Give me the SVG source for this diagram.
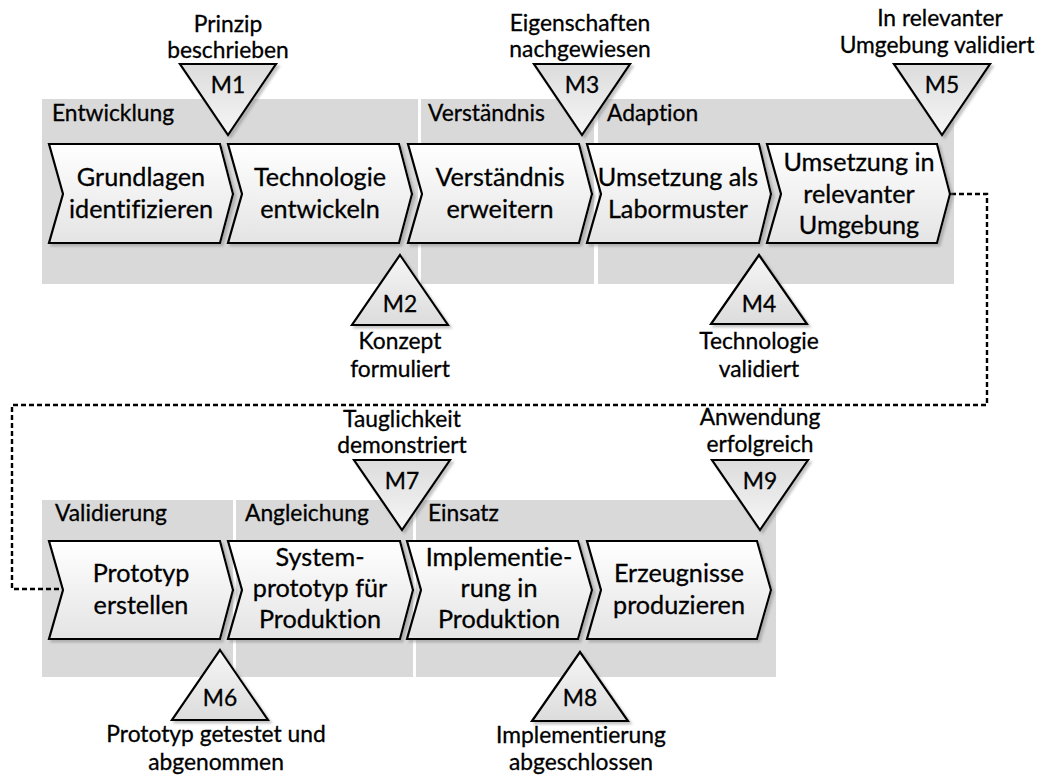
<svg xmlns="http://www.w3.org/2000/svg" width="1042" height="776" viewBox="0 0 1042 776">
  <style>
    text { font-family: Lato, "Liberation Sans", sans-serif; font-variant-ligatures: none; fill: #000; stroke: #000; stroke-width: 0.3px; }
    .band { fill: #d9d9d9; }
    .bandlabel { font-size: 22.8px; }
    .step { fill: url(#stepFill); stroke: #000; stroke-width: 2.2; stroke-linejoin: miter; filter: url(#shadow); }
    .steptext { font-size: 25.2px; text-anchor: middle; }
    .down { fill: url(#downFill); stroke: #000; stroke-width: 2.2; filter: url(#shadow); }
    .up { fill: url(#upFill); stroke: #000; stroke-width: 2.2; filter: url(#shadow); }
    .mtext { font-size: 22.8px; text-anchor: middle; }
    .flow { fill: none; stroke: #000; stroke-width: 2.4; stroke-dasharray: 5 3; }
  </style>
  <defs>
    <linearGradient id="stepFill" x1="0" y1="0" x2="0" y2="1">
      <stop offset="0" stop-color="#ffffff"/>
      <stop offset="1" stop-color="#e4e4e4"/>
    </linearGradient>
    <linearGradient id="downFill" x1="0" y1="0" x2="0" y2="1">
      <stop offset="0" stop-color="#dcdcdc"/>
      <stop offset="1" stop-color="#f6f6f6"/>
    </linearGradient>
    <linearGradient id="upFill" x1="0" y1="0" x2="0" y2="1">
      <stop offset="0" stop-color="#f6f6f6"/>
      <stop offset="1" stop-color="#dcdcdc"/>
    </linearGradient>
    <filter id="shadow" x="-10%" y="-10%" width="130%" height="130%">
      <feDropShadow dx="2.5" dy="2.5" stdDeviation="1.2" flood-color="#7f7f7f" flood-opacity="0.45"/>
    </filter>
  </defs>

  <!-- phase bands -->
  <g id="band-entwicklung">
    <rect class="band" x="42" y="99" width="376" height="185"/>
    <text class="bandlabel" x="52" y="121">Entwicklung</text>
  </g>
  <g id="band-verstaendnis">
    <rect class="band" x="421" y="99" width="173" height="185"/>
    <text class="bandlabel" x="428" y="121">Verständnis</text>
  </g>
  <g id="band-adaption">
    <rect class="band" x="598" y="99" width="356" height="185"/>
    <text class="bandlabel" x="607" y="121">Adaption</text>
  </g>
  <g id="band-validierung">
    <rect class="band" x="42" y="500" width="191" height="177"/>
    <text class="bandlabel" x="55" y="521">Validierung</text>
  </g>
  <g id="band-angleichung">
    <rect class="band" x="236" y="500" width="177" height="177"/>
    <text class="bandlabel" x="245" y="521">Angleichung</text>
  </g>
  <g id="band-einsatz">
    <rect class="band" x="416" y="500" width="360" height="177"/>
    <text class="bandlabel" x="428" y="521">Einsatz</text>
  </g>

  <!-- row change: dotted line from the last upper step to the first lower step -->
  <g id="connectors">
    <polyline class="flow" points="951,194 987,194 987,405 12,405 12,589 63,589"/>
  </g>

  <!-- process steps, upper row -->
  <g id="step-grundlagen">
    <polygon class="step" points="49,144 220,144 233,194 220,243 49,243 63,194"/>
    <text class="steptext" x="141" y="186">Grundlagen</text>
    <text class="steptext" x="141" y="218">identifizieren</text>
  </g>
  <g id="step-technologie">
    <polygon class="step" points="228,144 399,144 412,194 399,243 228,243 242,194"/>
    <text class="steptext" x="320" y="186">Technologie</text>
    <text class="steptext" x="320" y="218">entwickeln</text>
  </g>
  <g id="step-verstaendnis">
    <polygon class="step" points="408,144 579,144 592,194 579,243 408,243 422,194"/>
    <text class="steptext" x="500" y="186">Verständnis</text>
    <text class="steptext" x="500" y="218">erweitern</text>
  </g>
  <g id="step-labormuster">
    <polygon class="step" points="587,144 759,144 771,194 759,243 587,243 601,194"/>
    <text class="steptext" x="678" y="186">Umsetzung als</text>
    <text class="steptext" x="678" y="218">Labormuster</text>
  </g>
  <g id="step-umgebung">
    <polygon class="step" points="767,144 937,144 950,194 937,243 767,243 781,194"/>
    <text class="steptext" x="859" y="171">Umsetzung in</text>
    <text class="steptext" x="859" y="203">relevanter</text>
    <text class="steptext" x="859" y="234">Umgebung</text>
  </g>

  <!-- process steps, lower row -->
  <g id="step-prototyp">
    <polygon class="step" points="49,541 220,541 233,590 220,639 49,639 63,590"/>
    <text class="steptext" x="141" y="582">Prototyp</text>
    <text class="steptext" x="141" y="614">erstellen</text>
  </g>
  <g id="step-systemprototyp">
    <polygon class="step" points="228,541 400,541 413,590 400,639 228,639 242,590"/>
    <text class="steptext" x="320" y="566">System-</text>
    <text class="steptext" x="320" y="597">prototyp für</text>
    <text class="steptext" x="320" y="628">Produktion</text>
  </g>
  <g id="step-implementierung">
    <polygon class="step" points="407,541 578,541 592,590 578,639 407,639 421,590"/>
    <text class="steptext" x="499" y="566">Implementie-</text>
    <text class="steptext" x="499" y="597">rung in</text>
    <text class="steptext" x="499" y="628">Produktion</text>
  </g>
  <g id="step-erzeugnisse">
    <polygon class="step" points="587,541 757,541 771,590 757,639 587,639 601,590"/>
    <text class="steptext" x="679" y="582">Erzeugnisse</text>
    <text class="steptext" x="679" y="614">produzieren</text>
  </g>

  <!-- milestones -->
  <g id="milestone-m1">
    <polygon class="down" points="180,64 276,64 228,135"/>
    <text class="mtext" x="228" y="93">M1</text>
    <text class="mtext" x="228" y="32">Prinzip</text>
    <text class="mtext" x="228" y="58">beschrieben</text>
  </g>
  <g id="milestone-m2">
    <polygon class="up" points="400,255 448,325 352,325"/>
    <text class="mtext" x="400" y="312">M2</text>
    <text class="mtext" x="400" y="349">Konzept</text>
    <text class="mtext" x="400" y="377">formuliert</text>
  </g>
  <g id="milestone-m3">
    <polygon class="down" points="534,64 630,64 582,135"/>
    <text class="mtext" x="582" y="93">M3</text>
    <text class="mtext" x="580" y="31">Eigenschaften</text>
    <text class="mtext" x="580" y="57">nachgewiesen</text>
  </g>
  <g id="milestone-m4">
    <polygon class="up" points="759,255 807,324 711,324"/>
    <text class="mtext" x="759" y="312">M4</text>
    <text class="mtext" x="759" y="349">Technologie</text>
    <text class="mtext" x="759" y="377">validiert</text>
  </g>
  <g id="milestone-m5">
    <polygon class="down" points="894,64 990,64 942,135"/>
    <text class="mtext" x="942" y="93">M5</text>
    <text class="mtext" x="940" y="26">In relevanter</text>
    <text class="mtext" x="937" y="53">Umgebung validiert</text>
  </g>
  <g id="milestone-m6">
    <polygon class="up" points="220,650 268,720 172,720"/>
    <text class="mtext" x="220" y="706">M6</text>
    <text class="mtext" x="216" y="742">Prototyp getestet und</text>
    <text class="mtext" x="216" y="770">abgenommen</text>
  </g>
  <g id="milestone-m7">
    <polygon class="down" points="354,460 450,460 402,530"/>
    <text class="mtext" x="402" y="489">M7</text>
    <text class="mtext" x="402" y="427">Tauglichkeit</text>
    <text class="mtext" x="402" y="453">demonstriert</text>
  </g>
  <g id="milestone-m8">
    <polygon class="up" points="580,652 628,721 532,721"/>
    <text class="mtext" x="580" y="706">M8</text>
    <text class="mtext" x="581" y="743">Implementierung</text>
    <text class="mtext" x="581" y="770">abgeschlossen</text>
  </g>
  <g id="milestone-m9">
    <polygon class="down" points="712,460 808,460 760,530"/>
    <text class="mtext" x="760" y="489">M9</text>
    <text class="mtext" x="760" y="425">Anwendung</text>
    <text class="mtext" x="760" y="452">erfolgreich</text>
  </g>
</svg>
